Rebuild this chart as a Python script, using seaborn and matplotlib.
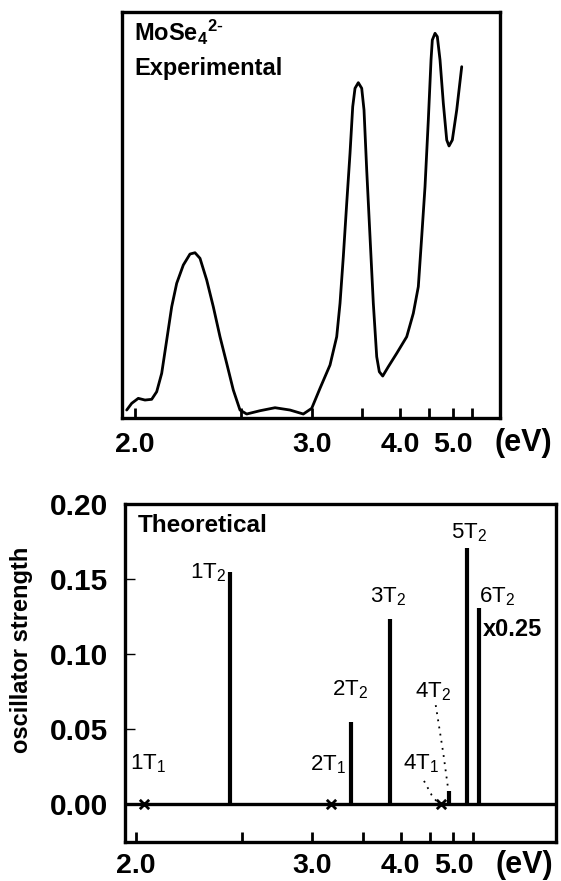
import seaborn as sns
import matplotlib.pyplot as plt
import numpy as np
import pandas as pd

# experimental absorption trace (eV, arbitrary units 0-1)
exp_energy = [1.9692, 1.9876, 2.0125, 2.0384, 2.0650, 2.0854, 2.1061, 2.1273, 2.1488, 2.1708,
              2.2006, 2.2316, 2.2553, 2.2796, 2.3129, 2.3467, 2.3820, 2.4184, 2.4554, 2.4941,
              2.5341, 2.6172, 2.7180, 2.8267, 2.9306, 3.0003, 3.0725, 3.1642, 3.2287, 3.2616,
              3.2950, 3.3302, 3.3651, 3.3942, 3.4194, 3.4561, 3.4949, 3.5216, 3.5534, 3.5932,
              3.6339, 3.6767, 3.7101, 3.7549, 3.8308, 3.9509, 4.1037, 4.2114, 4.2966, 4.3567,
              4.4166, 4.4783, 4.5300, 4.5552, 4.6087, 4.6553, 4.7112, 4.7813, 4.8558, 4.9075,
              4.9836, 5.0888, 5.2140]
exp_absorb = [0.0197, 0.0362, 0.0485, 0.0443, 0.0461, 0.0648, 0.1101, 0.1921, 0.2741, 0.3318,
              0.3768, 0.4039, 0.4071, 0.3933, 0.3399, 0.2741, 0.2002, 0.1347, 0.0690, 0.0197,
              0.0099, 0.0180, 0.0254, 0.0197, 0.0099, 0.0239, 0.0732, 0.1305, 0.2002, 0.2825,
              0.3973, 0.5288, 0.6520, 0.7667, 0.8121, 0.8259, 0.8121, 0.7586, 0.6108, 0.4466,
              0.2825, 0.1510, 0.1140, 0.1034, 0.1264, 0.1594, 0.2002, 0.2579, 0.3234, 0.4466,
              0.5697, 0.7340, 0.8818, 0.9310, 0.9475, 0.9392, 0.8818, 0.7751, 0.6847, 0.6700,
              0.6847, 0.7586, 0.8653]

# theoretical transitions
t2_names = ['1T$_2$', '2T$_2$', '3T$_2$', '4T$_2$', '5T$_2$', '6T$_2$']
t2_energy = [2.432, 3.366, 3.851, 4.890, 5.334, 5.686]
t2_strength = [0.1547, 0.0547, 0.1235, 0.0091, 0.171, 0.1307]
t1_names = ['1T$_1$', '2T$_1$', '4T$_1$']
t1_energy = [2.031, 3.164, 4.716]
t1_strength = [0.0, 0.0, 0.0]

tick_energy = [2.0, 2.5, 3.0, 3.5, 4.0, 4.5, 5.0, 5.5]
tick_labels = ['2.0', '', '3.0', '', '4.0', '', '5.0', '']
y_ticks = [0.00, 0.05, 0.10, 0.15, 0.20]

# label anchors (eV, baseline) -- layout only
label_pos = {
    '1T$_1$': (2.048, 0.0237), '1T$_2$': (2.313, 0.1507),
    '2T$_1$': (3.135, 0.0227), '2T$_2$': (3.358, 0.0727),
    '3T$_2$': (3.823, 0.1349), '4T$_1$': (4.326, 0.0231),
    '4T$_2$': (4.559, 0.0715), '5T$_2$': (5.396, 0.1771),
    '6T$_2$': (6.295, 0.1349),
}
# dotted leaders 4T2 -> small stick, 4T1 -> cross
lead_4t2 = ([4.613, 4.771, 4.881], [0.0662, 0.034, 0.0095])
lead_4t1 = ([4.389, 4.534, 4.666], [0.0157, 0.0062, 0.0007])

sns.set_theme(style='white')
plt.rcParams['font.family'] = ['Liberation Sans', 'DejaVu Sans']
plt.rcParams['mathtext.default'] = 'regular'
for k in ('text.color', 'axes.labelcolor', 'xtick.color', 'ytick.color', 'axes.edgecolor'):
    plt.rcParams[k] = 'black'


def fwd(e):
    e = np.asarray(e, dtype=float)
    with np.errstate(divide='ignore', invalid='ignore'):
        return -1.0 / e


def inv(u):
    u = np.asarray(u, dtype=float)
    with np.errstate(divide='ignore', invalid='ignore'):
        return -1.0 / u


fig = plt.figure(figsize=(5.61, 8.81), dpi=100)
ax1 = fig.add_axes([0.2169, 0.5255, 0.6744, 0.4609])
ax2 = fig.add_axes([0.2228, 0.0443, 0.7683, 0.3831])

# --- top: experimental
df_exp = pd.DataFrame({'E': exp_energy, 'A': exp_absorb})
sns.lineplot(data=df_exp, x='E', y='A', estimator=None, sort=False,
             color='black', lw=2.0, ax=ax1, solid_joinstyle='round', solid_capstyle='round')
ax1.set_xscale('function', functions=(fwd, inv))
ax1.set_xlim(1.951, 6.424)
ax1.set_ylim(0, 1)
ax1.set_yticks([])
ax1.set_xlabel('')
ax1.set_ylabel('')
ax1.text(0.0325, 0.929, r'MoSe$_4$$^{2\text{-}}$', transform=ax1.transAxes,
         fontsize=17, fontweight='bold', va='baseline')
ax1.text(0.0325, 0.845, 'Experimental', transform=ax1.transAxes,
         fontsize=17, fontweight='bold', va='baseline')
ax1.text(1.061, -0.0616, '(eV)', transform=ax1.transAxes, fontsize=22,
         fontweight='bold', ha='center', va='center', clip_on=False)

# --- bottom: theoretical
ax2.axhline(0, color='black', lw=2.4)
ax2.vlines(t2_energy, 0, t2_strength, color='black', lw=3)
sns.scatterplot(x=t1_energy, y=t1_strength, marker='x', s=45, color='black',
                linewidth=2, ax=ax2, zorder=5)
ax2.set_xscale('function', functions=(fwd, inv))
ax2.set_xlim(1.959, 9.70)
ax2.set_ylim(-0.025, 0.20)
ax2.plot(*lead_4t2, ls=(0, (1, 3)), color='black', lw=1.3)
ax2.plot(*lead_4t1, ls=(0, (1, 3)), color='black', lw=1.3)
for name, (x, y) in label_pos.items():
    ax2.text(x, y, name, fontsize=16, ha='center', va='baseline')
ax2.text(5.82, 0.1124, 'x0.25', fontsize=17, fontweight='bold', va='baseline')
ax2.text(0.030, 0.919, 'Theoretical', transform=ax2.transAxes,
         fontsize=17.5, fontweight='bold', va='baseline')
ax2.text(0.9275, -0.0684, '(eV)', transform=ax2.transAxes, fontsize=22,
         fontweight='bold', ha='center', va='center', clip_on=False)
ax2.set_yticks(y_ticks, [f'{v:.2f}' for v in y_ticks], fontsize=21.5, fontweight='bold')
ax2.tick_params(axis='y', direction='in', length=7, width=1, pad=12, left=True)
ax2.set_ylabel('oscillator strength', fontsize=17, fontweight='bold')
ax2.yaxis.set_label_coords(-0.2135, 0.569)
ax2.set_xlabel('')

for ax, pad in ((ax1, 10), (ax2, 8)):
    ax.set_xticks(tick_energy, tick_labels, fontsize=20.5, fontweight='bold')
    ax.tick_params(axis='x', direction='in', length=7, width=2, pad=pad,
                   bottom=True, colors='black')
    ax.minorticks_off()
    for sp in ax.spines.values():
        sp.set_visible(True)
        sp.set_color('black')
        sp.set_linewidth(2.4)
    ax.set_facecolor('white')
    ax.grid(False)

fig.savefig('out.png', dpi=100, facecolor='white')
